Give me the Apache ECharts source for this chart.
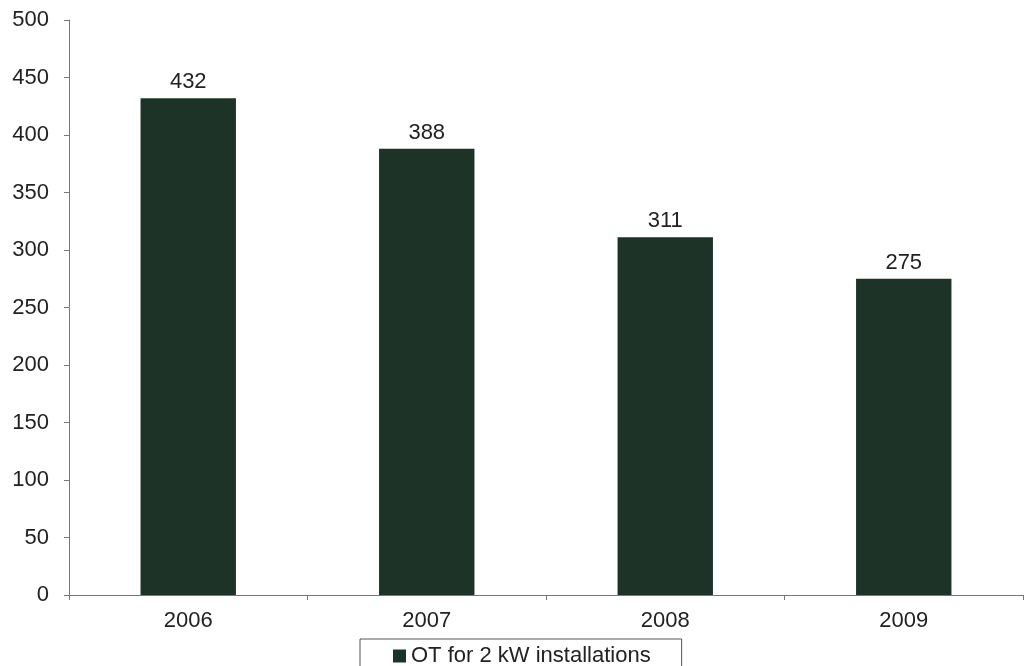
<!DOCTYPE html>
<html>
<head>
<meta charset="utf-8">
<script src="https://cdn.jsdelivr.net/npm/echarts@6/dist/echarts.min.js"></script>
<style>
  html, body { margin: 0; padding: 0; background: #fff; }
  #chart { width: 1025px; height: 666px; }
</style>
</head>
<body>
<div id="chart"></div>
<script>
const years = ["2006", "2007", "2008", "2009"];
const otValues = [432, 388, 311, 275];
const seriesName = "OT for 2 kW installations";

const font = "'Liberation Sans', Arial, sans-serif";
const chart = echarts.init(document.getElementById("chart"));

chart.setOption({
  animation: false,
  grid: { left: 69, right: 2, top: 20, bottom: 71 },
  legend: {
    data: [seriesName],
    left: 360,
    top: 639,
    padding: [6, 31, 12, 33],
    borderColor: "#555",
    borderWidth: 1,
    icon: "rect",
    itemWidth: 13,
    itemHeight: 13,
    itemGap: 0,
    textStyle: { fontFamily: font, fontSize: 22, color: "#222" },
  },
  xAxis: {
    type: "category",
    data: years,
    axisLine: { lineStyle: { color: "#777", width: 1 } },
    axisTick: { show: true, alignWithLabel: false, length: 5, lineStyle: { color: "#777" } },
    axisLabel: { fontFamily: font, fontSize: 22, color: "#222", margin: 15 },
  },
  yAxis: {
    type: "value",
    min: 0,
    max: 500,
    interval: 50,
    axisLine: { show: true, lineStyle: { color: "#777", width: 1 } },
    axisTick: { show: true, length: 5, lineStyle: { color: "#777" } },
    splitLine: { show: false },
    axisLabel: { fontFamily: font, fontSize: 22, color: "#222", margin: 20 },
  },
  series: [
    {
      name: seriesName,
      type: "bar",
      data: otValues,
      barWidth: "40%",
      itemStyle: { color: "#1d3327" },
      label: {
        show: true,
        position: "top",
        distance: 5,
        fontFamily: font,
        fontSize: 22,
        color: "#222",
      },
    },
  ],
});
</script>
</body>
</html>
